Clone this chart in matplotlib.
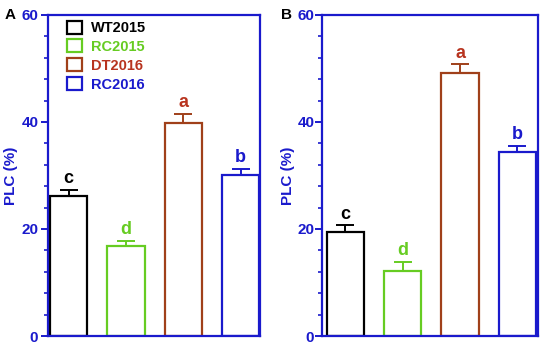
import numpy as np
import matplotlib.pyplot as plt
from matplotlib.patches import Rectangle
from matplotlib.ticker import MultipleLocator

groups = ['WT2015', 'RC2015', 'DT2016', 'RC2016']
plc_a = [26.2, 16.8, 39.9, 30.1]
err_a = [1.1, 1.0, 1.6, 1.2]
sig_a = ['c', 'd', 'a', 'b']
plc_b = [19.4, 12.2, 49.1, 34.3]
err_b = [1.3, 1.6, 1.7, 1.2]
sig_b = ['c', 'd', 'a', 'b']

edge_colors = ['black', '#66cc22', '#a0401a', '#1a1acc']
text_colors = ['black', '#66cc22', '#b8341f', '#1a1acc']
axis_blue = '#1a1acc'

plt.rcParams['font.family'] = ['Liberation Sans', 'DejaVu Sans']
plt.rcParams['font.weight'] = 'bold'

fig = plt.figure(figsize=(5.5, 3.49), dpi=100)
W, H = 550, 349
ax_a = fig.add_axes([48 / W, 1 - 336 / H, (260 - 48) / W, (336 - 15) / H])
ax_b = fig.add_axes([322 / W, 1 - 336 / H, (538 - 322) / W, (336 - 15) / H])


def draw_panel(ax, vals, errs, sig, xlim, letter, label_x, letter_x, pad):
    x = np.arange(len(vals))
    for i in range(len(vals)):
        ax.bar(x[i], vals[i], width=0.65, facecolor='white',
               edgecolor=edge_colors[i], linewidth=1.6, zorder=2)
        ax.errorbar(x[i], vals[i], yerr=[[0], [errs[i]]], fmt='none',
                    ecolor=edge_colors[i], elinewidth=1.4, capsize=6.5,
                    capthick=1.4, zorder=3)
        ax.text(x[i], vals[i] + errs[i] + 0.5, sig[i], ha='center',
                va='bottom', fontsize=13, fontweight='bold',
                color=text_colors[i])
    ax.set_xlim(*xlim)
    ax.set_ylim(0, 60)
    ax.set_xticks([])
    ax.yaxis.set_major_locator(MultipleLocator(20))
    ax.yaxis.set_minor_locator(MultipleLocator(4))
    ax.tick_params(axis='y', which='major', length=5, width=1.4,
                   colors=axis_blue, labelsize=11, pad=pad)
    ax.tick_params(axis='y', which='minor', length=3, width=1.2,
                   colors=axis_blue)
    for lab in ax.get_yticklabels():
        lab.set_fontweight('bold')
    for s in ax.spines.values():
        s.set_color(axis_blue)
        s.set_linewidth(1.6)
    ax.set_ylabel('PLC (%)', color=axis_blue, fontsize=11, fontweight='bold')
    ax.yaxis.set_label_coords(label_x, 0.5)
    ax.text(letter_x, 1.0, letter, transform=ax.transAxes, fontsize=11,
            fontweight='bold', ha='center', va='center')


draw_panel(ax_a, plc_a, err_a, sig_a, (-0.36, 3.34), 'A', -0.14, -0.18, 2)
draw_panel(ax_b, plc_b, err_b, sig_b, (-0.41, 3.36), 'B', -0.125, -0.165, 0.5)

# legend in panel A
handles = [Rectangle((0, 0), 1, 1, facecolor='white', edgecolor=c, linewidth=1.6)
           for c in edge_colors]
leg = ax_a.legend(handles, groups, loc='upper left', bbox_to_anchor=(0.05, 1.01),
                  frameon=False, handlelength=1.0, handleheight=1.0,
                  handletextpad=0.6, labelspacing=0.3, borderaxespad=0.2,
                  prop={'weight': 'bold', 'size': 10.5})
for t, c in zip(leg.get_texts(), text_colors):
    t.set_color(c)

fig.savefig('out.png', dpi=100)
